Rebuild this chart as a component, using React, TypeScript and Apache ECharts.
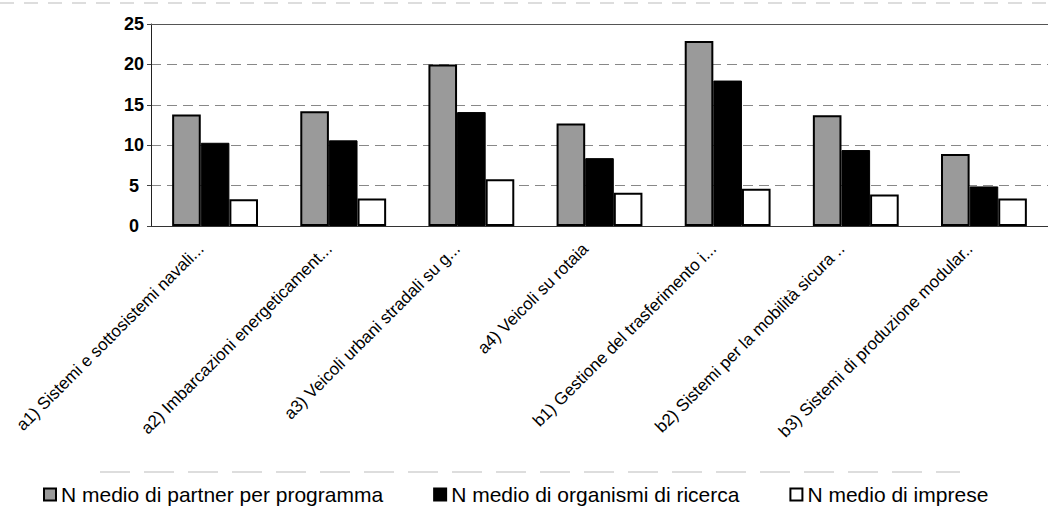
import React, { useEffect, useRef } from "react";
import * as echarts from "echarts";

const categories = [
  "a1) Sistemi e sottosistemi navali...",
  "a2) Imbarcazioni energeticament...",
  "a3) Veicoli urbani stradali su g...",
  "a4) Veicoli su rotaia",
  "b1) Gestione del trasferimento i...",
  "b2) Sistemi per la mobilità sicura ..",
  "b3) Sistemi di produzione modular..",
];
const seriesNames = [
  "N medio di partner per programma",
  "N medio di organismi di ricerca",
  "N medio di imprese",
];
const partner = [13.8, 14.2, 20.0, 12.7, 22.9, 13.7, 8.9];
const ricerca = [10.3, 10.6, 14.1, 8.4, 18.0, 9.4, 4.9];
const imprese = [3.3, 3.4, 5.8, 4.1, 4.6, 3.9, 3.4];
const yTicks = [0, 5, 10, 15, 20, 25];

export default function App() {
  const ref = useRef<HTMLDivElement>(null);
  useEffect(() => {
    if (!ref.current) return;
    const chart = echarts.init(ref.current, undefined, { renderer: "svg" });
    const font = "Arial, 'Liberation Sans', sans-serif";
    chart.setOption({
      animation: false,
      backgroundColor: "#ffffff",
      textStyle: { fontFamily: font },
      grid: { left: 151, right: 0, top: 24, bottom: 284, containLabel: false },
      legend: {
        top: 479,
        left: 38,
        icon: "rect",
        itemWidth: 12,
        itemHeight: 12,
        itemGap: 50,
        textStyle: { fontSize: 21, color: "#000", fontFamily: font },
        data: seriesNames,
      },
      xAxis: {
        type: "category",
        data: categories,
        axisLine: { lineStyle: { color: "#333", width: 1 } },
        axisTick: { show: false },
        axisLabel: {
          rotate: 45,
          interval: 0,
          margin: 6,
          padding: [0, 20, 0, 0],
          fontSize: 17,
          color: "#000",
          fontFamily: font,
        },
      },
      yAxis: {
        type: "value",
        min: 0,
        max: 25,
        interval: 5,
        axisLine: { show: true, lineStyle: { color: "#222", width: 1 } },
        axisTick: { show: true, length: 4, lineStyle: { color: "#444" } },
        splitLine: { lineStyle: { color: "#888", type: [10, 6], width: 1 } },
        axisLabel: {
          align: "center",
          margin: 17,
          fontSize: 18,
          fontWeight: "bold",
          color: "#000",
          fontFamily: font,
          formatter: (v: number) => (yTicks.includes(v) ? String(v) : ""),
        },
      },
      series: [
        {
          name: seriesNames[0],
          type: "bar",
          data: partner,
          barGap: "0%",
          barCategoryGap: "33%",
          itemStyle: { color: "#9a9a9a", borderColor: "#000", borderWidth: 2 },
          markLine: {
            silent: true,
            symbol: "none",
            label: { show: false },
            lineStyle: { color: "#555", type: "solid", width: 1 },
            data: [{ yAxis: 25 }],
          },
        },
        {
          name: seriesNames[1],
          type: "bar",
          data: ricerca,
          itemStyle: { color: "#000", borderColor: "#000", borderWidth: 1 },
        },
        {
          name: seriesNames[2],
          type: "bar",
          data: imprese,
          itemStyle: { color: "#fff", borderColor: "#000", borderWidth: 2 },
        },
      ],
      graphic: [
        {
          type: "line",
          shape: { x1: 0, y1: 3, x2: 1048, y2: 3 },
          style: { stroke: "#bbb", lineWidth: 1, lineDash: [14, 10] },
        },
        {
          type: "line",
          shape: { x1: 100, y1: 472, x2: 960, y2: 472 },
          style: { stroke: "#bbb", lineWidth: 1, lineDash: [30, 14] },
        },
      ],
    });
    return () => chart.dispose();
  }, []);
  return <div ref={ref} style={{ width: 1048, height: 510, position: "absolute", left: 0, top: 0 }} />;
}
